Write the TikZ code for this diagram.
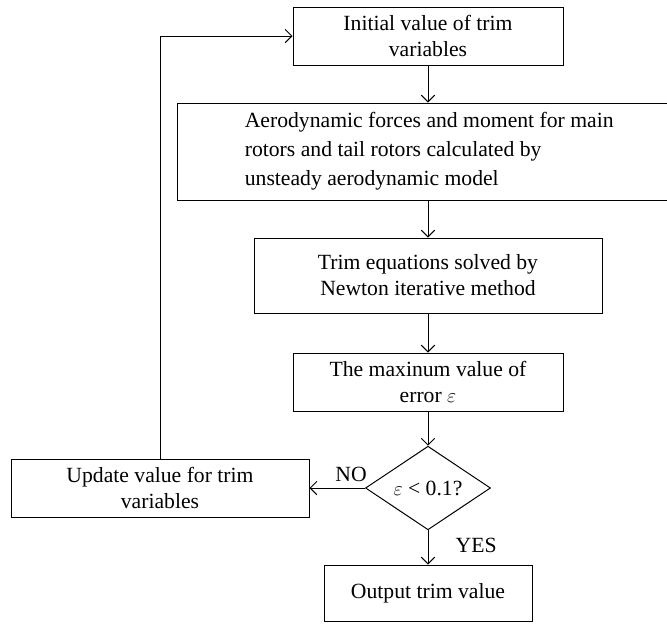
\documentclass[tikz,border=0pt]{standalone}
\usepackage{fontspec}
\setmainfont{Liberation Serif}
\usetikzlibrary{shapes.geometric,arrows.meta}

\tikzset{
  box/.style={draw, line width=0.6pt, align=center, inner sep=0pt,
    font=\fontsize{13}{15.6}\selectfont},
  txt/.style={align=left, inner sep=0pt, font=\fontsize{13}{17.4}\selectfont},
  decision/.style={diamond, draw, line width=0.6pt, inner sep=0pt,
    font=\fontsize{13}{15.6}\selectfont},
  flow/.style={line width=0.6pt, -{Straight Barb[length=4pt,width=8pt]}},
}

\begin{document}
\begin{tikzpicture}[x=0.6pt, y=-0.6pt]
  \useasboundingbox (0,0) rectangle (667,623);
  \node[box, minimum width=162pt, minimum height=34.8pt] (init) at (428,36) {Initial value of trim\\variables};
  \node[box, minimum width=297pt, minimum height=58.2pt] (aero) at (424.5,151.5) {};
  \node[txt, anchor=west] (aerotxt) at ([xshift=40.8pt]aero.west) {Aerodynamic forces and moment for main\\rotors and tail rotors calculated by\\unsteady aerodynamic model};
  \node[box, minimum width=208.8pt, minimum height=45pt] (trim) at (428,275.5) {Trim equations solved by\\Newton iterative method};
  \node[box, minimum width=162pt, minimum height=34.8pt] (maxerr) at (428,382) {The maxinum value of\\error $\varepsilon$};
  \node[decision, minimum width=75pt, minimum height=45.6pt] (check) at (428,488) {$\varepsilon$ < 0.1?};
  \node[box, minimum width=178.8pt, minimum height=34.8pt] (update) at (160,488) {Update value for trim\\variables};
  \node[box, minimum width=124.8pt, minimum height=33.6pt] (output) at (428,593) {Output trim value};

  \draw[flow] (init.south) -- (init.south |- aero.north);
  \draw[flow] (trim.north |- aero.south) -- (trim.north);
  \draw[flow] (trim.south) -- (maxerr.north);
  \draw[flow] (maxerr.south) -- (check.north);
  \draw[flow] (check.west) -- node[pos=0.25, above, font=\fontsize{13}{15.6}\selectfont] (no) {NO} (update.east);
  \draw[flow] (check.south) -- node[pos=0.45, right=13pt, font=\fontsize{13}{15.6}\selectfont] (yes) {YES} (output.north);
  \draw[flow] (update.north) |- (init.west);
\end{tikzpicture}
\end{document}
